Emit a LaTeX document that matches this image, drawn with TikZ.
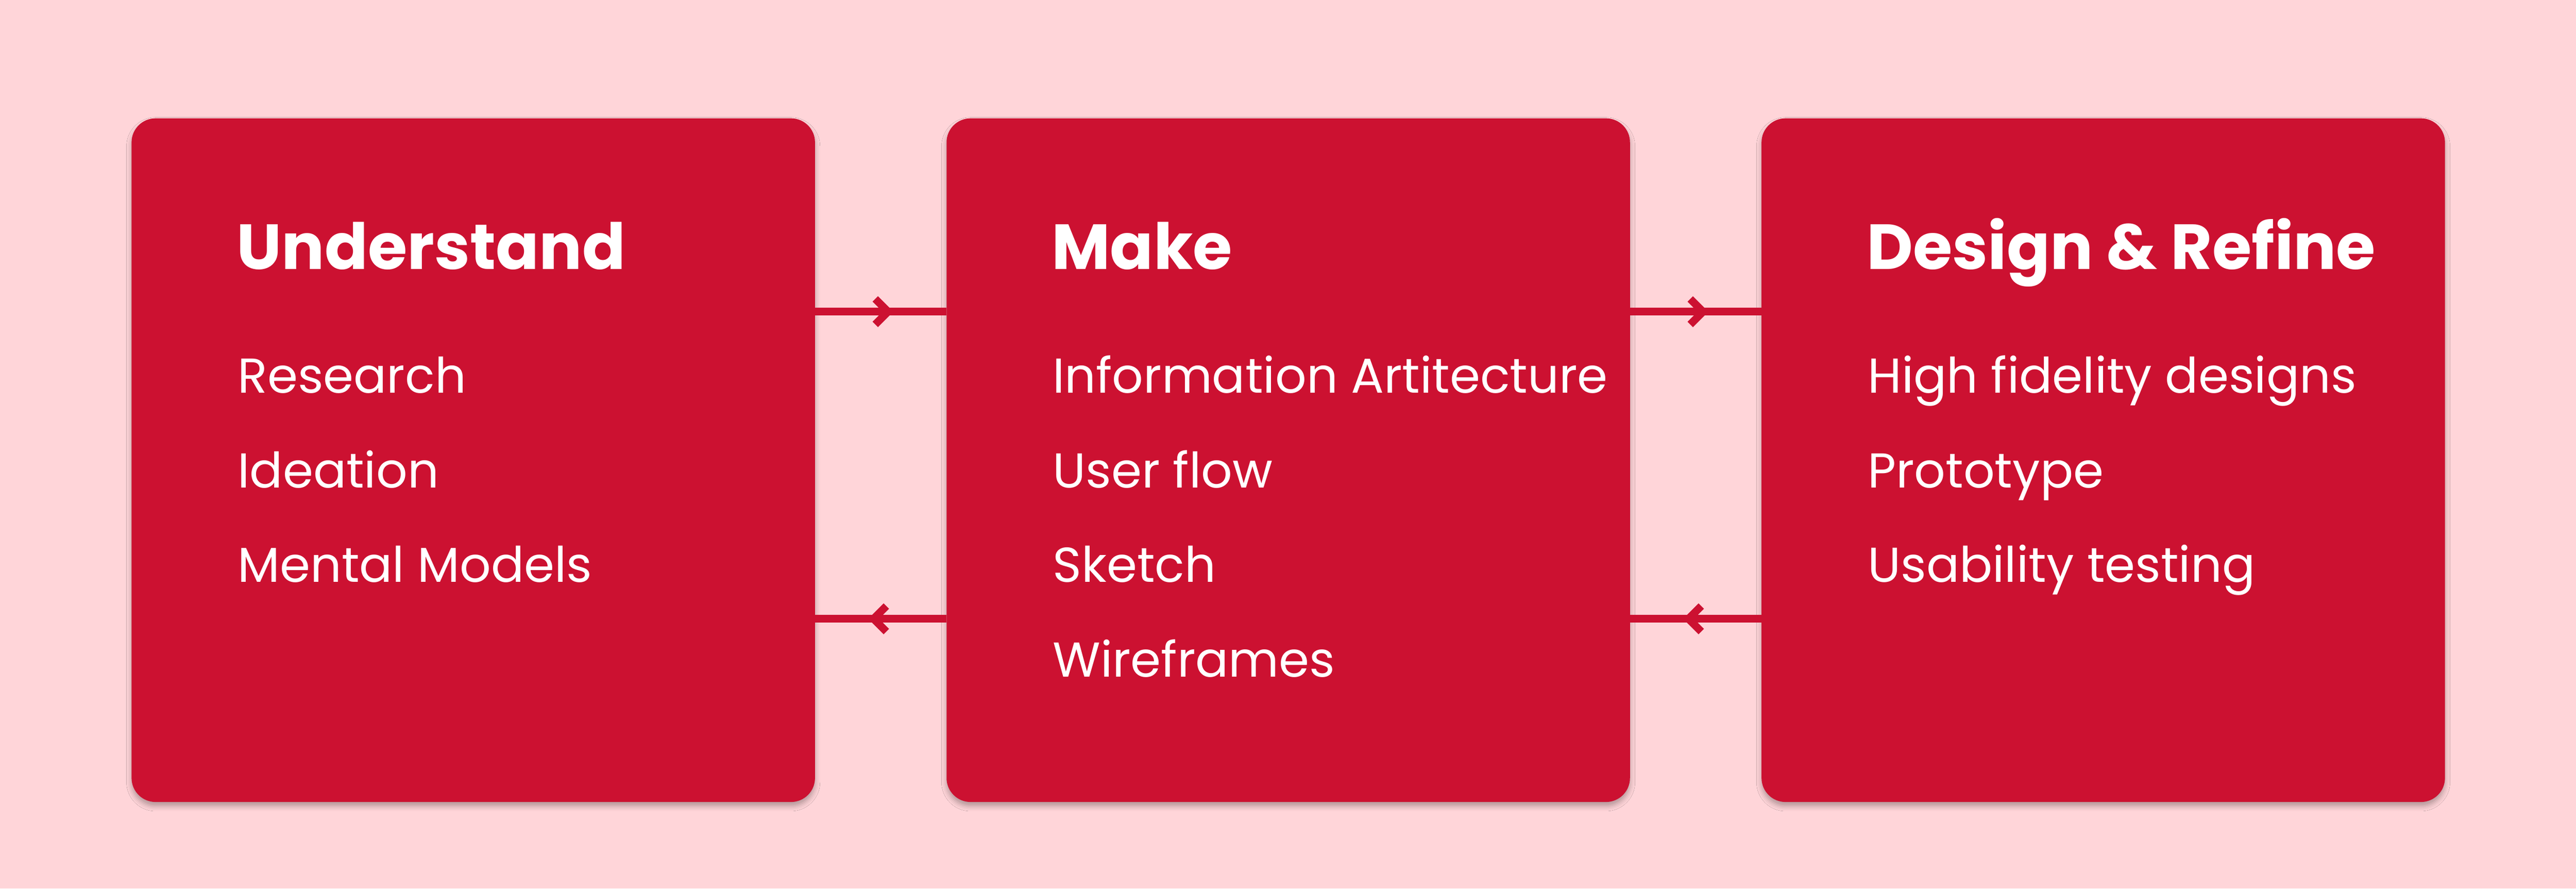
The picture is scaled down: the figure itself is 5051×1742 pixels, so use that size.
\documentclass[tikz,border=0pt]{standalone}
\usepackage{fontspec}
\setmainfont{Poppins}
\usetikzlibrary{shadows.blur,decorations.markings}
\definecolor{bg}{HTML}{FFD5D9}
\definecolor{boxred}{HTML}{CC1131}
\begin{document}
\begin{tikzpicture}[x=1pt,y=-1pt,
  box/.style={fill=boxred, rounded corners=47pt, minimum width=1340pt, minimum height=1340pt,
    inner sep=0pt, draw=none,
    blur shadow={shadow xshift=0pt, shadow yshift=-8pt, shadow blur radius=10pt, shadow opacity=30}},
  head/.style={anchor=base west, text=white, inner sep=0pt, font=\fontsize{125}{150}\selectfont\bfseries},
  item/.style={anchor=base west, text=white, inner sep=0pt, font=\fontsize{96}{115}\selectfont},
  conn/.style={draw=boxred, line width=15pt},
  chev/.style={postaction={decorate}, decoration={markings,
    mark=at position 143pt with {\draw[line width=15pt, boxred, miter limit=10] (-25pt,25pt) -- (0pt,0pt) -- (-25pt,-25pt);}}}
]
\fill[bg] (0,0) rectangle (5051,1742);
\useasboundingbox (0,0) rectangle (5051,1742);

\node[box] (b1) at (928,902) {};
\node[box] (b2) at (2526,902) {};
\node[box] (b3) at (4124,902) {};

\coordinate (yt) at (0,611);
\coordinate (yb) at (0,1213);
\draw[conn,chev] (b1.east |- yt) -- (b2.west |- yt);
\draw[conn,chev] (b2.west |- yb) -- (b1.east |- yb);
\draw[conn,chev] (b2.east |- yt) -- (b3.west |- yt);
\draw[conn,chev] (b3.west |- yb) -- (b2.east |- yb);

\node[head] (h1) at (464,528) {Understand};
\node[item] (a1) at (466,770) {Research};
\node[item] (a2) at (466,955.7) {Ideation};
\node[item] (a3) at (466,1141.3) {Mental Models};

\node[head] (h2) at (2062,528) {Make};
\node[item] (m1) at (2064,770) {Information Artitecture};
\node[item] (m2) at (2064,955.7) {User flow};
\node[item] (m3) at (2064,1141.3) {Sketch};
\node[item] (m4) at (2064,1327) {Wireframes};

\node[head] (h3) at (3660,528) {Design \& Refine};
\node[item] (d1) at (3662,770) {High fidelity designs};
\node[item] (d2) at (3662,955.7) {Prototype};
\node[item] (d3) at (3662,1141.3) {Usability testing};
\end{tikzpicture}
\end{document}
